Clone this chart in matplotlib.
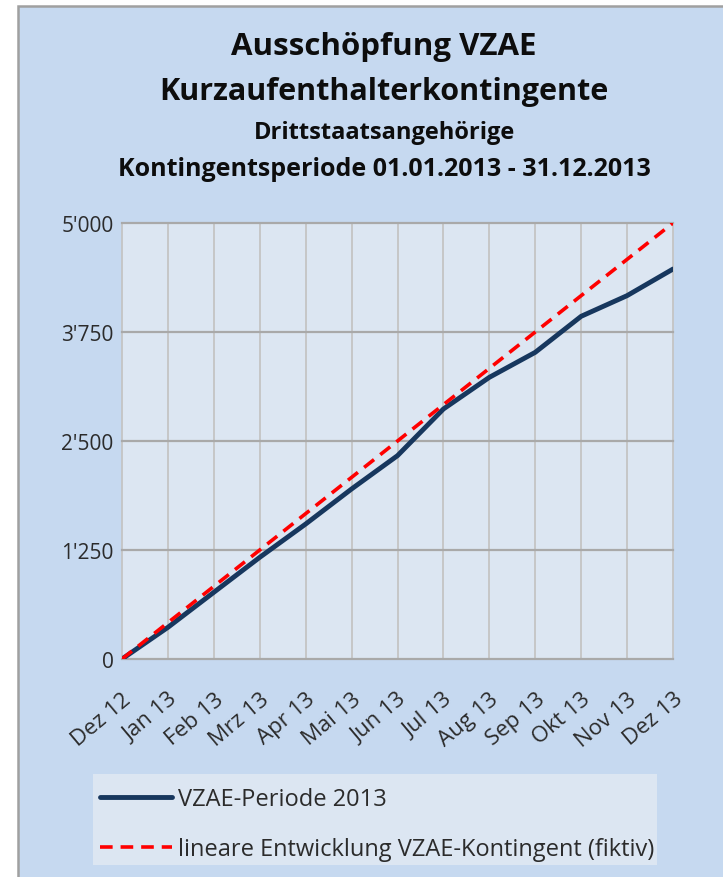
import matplotlib
matplotlib.use("Agg")
import matplotlib.pyplot as plt
from matplotlib.patches import Rectangle

# ---- data ----
months = ["Dez 12", "Jan 13", "Feb 13", "Mrz 13", "Apr 13", "Mai 13", "Jun 13",
          "Jul 13", "Aug 13", "Sep 13", "Okt 13", "Nov 13", "Dez 13"]
vzae_2013 = [0, 363, 765, 1166, 1548, 1950, 2332, 2867, 3230, 3517, 3930, 4167, 4472]
linear_quota = [0, 417, 833, 1250, 1667, 2083, 2500, 2917, 3333, 3750, 4167, 4583, 5000]
y_ticks = [0, 1250, 2500, 3750, 5000]
y_tick_labels = ["0", "1'250", "2'500", "3'750", "5'000"]
title_lines = ["Ausschöpfung VZAE", "Kurzaufenthalterkontingente",
               "Drittstaatsangehörige", "Kontingentsperiode 01.01.2013 - 31.12.2013"]
legend_labels = ["VZAE-Periode 2013", "lineare Entwicklung VZAE-Kontingent (fiktiv)"]

FONT = "Open Sans"
W, H = 723, 878
BG = "#C6D9F0"
PLOT_BG = "#DCE6F2"
TXT = "#2B2B2B"

fig = plt.figure(figsize=(W / 100, H / 100), dpi=100)
fig.patch.set_facecolor("white")
fig.patches.append(Rectangle((18 / W, -0.05), 1.2, 1.05 - 7 / H, transform=fig.transFigure,
                             facecolor=BG, edgecolor="#A0A0A0", lw=1.8, zorder=-10))

# titles
title_specs = [(47, 22.5), (92, 22), (133, 17), (170, 18)]
for text, (yp, fs) in zip(title_lines, title_specs):
    fig.text(384 / W, 1 - yp / H, text, ha="center", va="center", fontsize=fs,
             fontweight="bold", family=FONT, color="#0D0D0D")

ax = fig.add_axes([122 / W, 1 - 660 / H, (673 - 122) / W, (660 - 224) / H])
ax.set_facecolor(PLOT_BG)
x = list(range(len(months)))
l1, = ax.plot(x, vzae_2013, color="#17375E", lw=3.5, solid_capstyle="round", zorder=3)
l2, = ax.plot(x, linear_quota, color="#FF0000", lw=2.6, dashes=(3.5, 2.2), zorder=4)

ax.set_xlim(0, len(months) - 1)
ax.set_ylim(0, 5000)
ax.set_xticks(x)
ax.set_xticklabels(months, rotation=40, ha="right", va="top", rotation_mode="anchor",
                   family=FONT, fontsize=16, color=TXT)
ax.set_yticks(y_ticks)
ax.set_yticklabels(y_tick_labels, family=FONT, fontsize=15, color=TXT)
ax.tick_params(axis="both", length=0)
ax.tick_params(axis="y", pad=6)
ax.tick_params(axis="x", pad=21)
for s in ax.spines.values():
    s.set_visible(False)
ax.xaxis.grid(True, color="#C4C4C4", lw=1.3)
ax.yaxis.grid(True, color="#A9A9A9", lw=1.6)
for gl in ax.get_xgridlines() + ax.get_ygridlines():
    gl.set_clip_on(False)
ax.set_axisbelow(True)

# legend
lx0, lx1, ly0, ly1 = 93, 657, 775, 866
fig.patches.append(Rectangle((lx0 / W, 1 - ly1 / H), (lx1 - lx0) / W, (ly1 - ly0) / H,
                             transform=fig.transFigure, facecolor=PLOT_BG, edgecolor="none", zorder=-5))
leg = fig.legend([l1, l2], legend_labels, loc="center left",
                 bbox_to_anchor=(lx0 / W, 1 - 825 / H), frameon=False,
                 prop={"family": FONT, "size": 17}, handlelength=3.05, handletextpad=0.25,
                 labelspacing=1.1, borderpad=0.3, borderaxespad=0.0)
for t in leg.get_texts():
    t.set_color(TXT)

fig.savefig("out.png", dpi=100, facecolor=fig.get_facecolor())
